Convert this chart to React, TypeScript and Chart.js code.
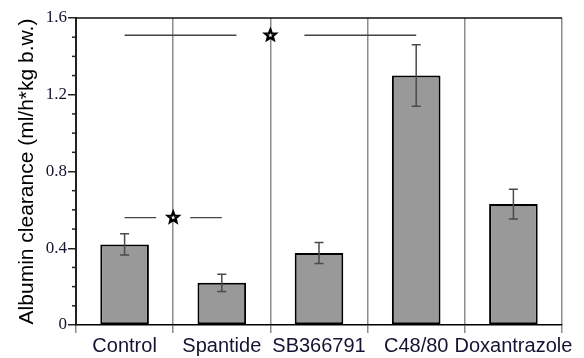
import React, { useEffect, useRef } from 'react';
import { Chart, registerables } from 'chart.js';

Chart.register(...registerables);

const categories = ['Control', 'Spantide', 'SB366791', 'C48/80', 'Doxantrazole'];
const means = [0.42, 0.22, 0.375, 1.3, 0.63];
const errors = [0.055, 0.045, 0.055, 0.16, 0.077];
const yTicks = [0, 0.4, 0.8, 1.2, 1.6];
const sigFrom = [0, 0];
const sigTo = [3, 1];
const sigLevel = [1.51, 0.56];
const yTitle = 'Albumin clearance (ml/h*kg b.w.)';

const SIG_GAP = [34, 17];

function drawStar(ctx: CanvasRenderingContext2D, cx: number, cy: number, ro: number, ri: number) {
  ctx.beginPath();
  for (let i = 0; i < 10; i++) {
    const r = i % 2 === 0 ? ro : ri;
    const a = -Math.PI / 2 + (i * Math.PI) / 5;
    const px = cx + r * Math.cos(a);
    const py = cy + r * Math.sin(a);
    if (i === 0) ctx.moveTo(px, py);
    else ctx.lineTo(px, py);
  }
  ctx.closePath();
  ctx.fillStyle = '#fff';
  ctx.fill();
  ctx.strokeStyle = '#000';
  ctx.lineWidth = 2.4;
  ctx.lineJoin = 'miter';
  ctx.stroke();
}

const overlay = {
  id: 'overlay',
  afterDatasetsDraw(chart: any) {
    const ctx: CanvasRenderingContext2D = chart.ctx;
    const { left, right, top, bottom } = chart.chartArea;
    const xs = chart.scales.x;
    const ys = chart.scales.y;
    const meta = chart.getDatasetMeta(0);
    ctx.save();
    // top frame line
    ctx.strokeStyle = '#111';
    ctx.lineWidth = 1.5;
    ctx.beginPath();
    ctx.moveTo(left, top);
    ctx.lineTo(right, top);
    ctx.stroke();
    // minor ticks on y axis
    ctx.strokeStyle = '#222';
    ctx.lineWidth = 1.5;
    const max = yTicks[yTicks.length - 1];
    for (let k = 1; k < Math.round(max * 10); k++) {
      if (k % 4 === 0) continue;
      const py = ys.getPixelForValue(k / 10);
      ctx.beginPath();
      ctx.moveTo(left - 4, py);
      ctx.lineTo(left, py);
      ctx.stroke();
    }
    // error bars
    ctx.strokeStyle = '#4a4a4a';
    ctx.lineWidth = 1.5;
    means.forEach((m, i) => {
      const el = meta.data[i];
      const x = el.x;
      const yt = ys.getPixelForValue(m + errors[i]);
      const yb = ys.getPixelForValue(m - errors[i]);
      ctx.beginPath();
      ctx.moveTo(x, yt);
      ctx.lineTo(x, yb);
      ctx.moveTo(x - 4.5, yt);
      ctx.lineTo(x + 4.5, yt);
      ctx.moveTo(x - 4.5, yb);
      ctx.lineTo(x + 4.5, yb);
      ctx.stroke();
    });
    // significance lines
    sigFrom.forEach((f, i) => {
      const x1 = xs.getPixelForValue(f);
      const x2 = xs.getPixelForValue(sigTo[i]);
      const y = ys.getPixelForValue(sigLevel[i]);
      const mid = (x1 + x2) / 2;
      ctx.strokeStyle = '#444';
      ctx.lineWidth = 1.3;
      ctx.beginPath();
      ctx.moveTo(x1, y);
      ctx.lineTo(mid - SIG_GAP[i], y);
      ctx.moveTo(mid + SIG_GAP[i], y);
      ctx.lineTo(x2, y);
      ctx.stroke();
      drawStar(ctx, mid, y, 5.5, 2.4);
    });
    // y axis title
    ctx.translate(33, (top + bottom) / 2);
    ctx.rotate(-Math.PI / 2);
    ctx.fillStyle = '#000';
    ctx.font = "21px 'Liberation Sans', Arial, sans-serif";
    ctx.textAlign = 'center';
    ctx.textBaseline = 'alphabetic';
    ctx.fillText(yTitle, 0, 0);
    ctx.restore();
  },
};

export default function App() {
  const ref = useRef<HTMLCanvasElement>(null);
  useEffect(() => {
    document.body.style.margin = '0';
    const chart = new Chart(ref.current as HTMLCanvasElement, {
      type: 'bar',
      data: {
        labels: categories,
        datasets: [
          {
            data: means,
            backgroundColor: '#999999',
            borderColor: '#000',
            borderWidth: 2,
            borderSkipped: false,
            categoryPercentage: 1,
            barPercentage: 0.5,
          },
        ],
      },
      options: {
        responsive: false,
        animation: false,
        layout: { padding: { top: 18, right: 22, left: 0, bottom: 0 } },
        plugins: { legend: { display: false }, tooltip: { enabled: false } },
        scales: {
          x: {
            offset: true,
            grid: {
              offset: true,
              color: '#8c8c8c',
              lineWidth: 1.5,
              tickLength: 8,
              drawTicks: true,
            },
            border: { color: '#000', width: 1.5 },
            ticks: {
              maxRotation: 0,
              minRotation: 0,
              autoSkip: false,
              color: '#141432',
              padding: 1,
              font: { family: "'Liberation Sans', Arial, sans-serif", size: 20 },
            },
            afterFit: (s: any) => {
              s.height = 33;
            },
          },
          y: {
            min: 0,
            max: 1.6,
            grid: { drawOnChartArea: false, tickLength: 8, color: '#222', lineWidth: 1.5 },
            border: { color: '#222', width: 2 },
            ticks: {
              stepSize: 0.4,
              padding: 1,
              color: '#141432',
              font: { family: "'Liberation Serif', 'Times New Roman', serif", size: 17 },
              callback: (v: any) => (Number(v) === 0 ? '0' : Number(v).toFixed(1)),
            },
            afterFit: (s: any) => {
              s.width = 76;
            },
          },
        },
      },
      plugins: [overlay],
    });
    return () => chart.destroy();
  }, []);
  return (
    <div style={{ position: 'absolute', left: 0, top: 0, width: 584, height: 358 }}>
      <canvas ref={ref} width={584} height={358} />
    </div>
  );
}
